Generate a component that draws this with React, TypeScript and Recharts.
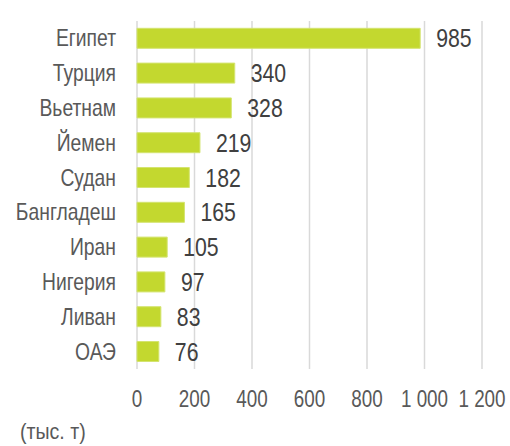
import { BarChart, Bar, XAxis, YAxis, CartesianGrid, LabelList } from "recharts";

const countries = ["Египет", "Турция", "Вьетнам", "Йемен", "Судан", "Бангладеш", "Иран", "Нигерия", "Ливан", "ОАЭ"];
const volumes = [985, 340, 328, 219, 182, 165, 105, 97, 83, 76];
const xTicks = [0, 200, 400, 600, 800, 1000, 1200];

const data = countries.map((name, i) => ({ name, value: volumes[i] }));

// no narrow font installed, so squeeze Liberation Sans horizontally
const FONT = "'Liberation Sans', Arial, sans-serif";
const TEXT = "#595959";

const fmt = (v: number) => String(v).replace(/\B(?=(\d{3})+(?!\d))/g, " ");

function NarrowText({ x, y, anchor, size, fill, sx, children }: any) {
  return (
    <g transform={`translate(${x},${y}) scale(${sx},1)`}>
      <text x={0} y={0} textAnchor={anchor} fontSize={size} fill={fill} fontFamily={FONT}>
        {children}
      </text>
    </g>
  );
}

function CountryTick({ x, y, payload }: any) {
  return (
    <NarrowText x={x} y={y + 8} anchor="end" size={23} fill={TEXT} sx={0.84}>
      {payload.value}
    </NarrowText>
  );
}

function ValueTick({ x, y, payload }: any) {
  return (
    <NarrowText x={x} y={y + 38} anchor="middle" size={23} fill={TEXT} sx={0.82}>
      {fmt(payload.value)}
    </NarrowText>
  );
}

function BarValue({ x, y, width, height, value }: any) {
  return (
    <NarrowText x={x + width + 16} y={y + height / 2 + 9} anchor="start" size={25} fill="#404040" sx={0.85}>
      {value}
    </NarrowText>
  );
}

export default function App() {
  return (
    <div style={{ position: "absolute", left: 0, top: 0, width: 510, height: 446, background: "#fff", fontFamily: FONT }}>
      <BarChart
        width={510}
        height={446}
        data={data}
        layout="vertical"
        margin={{ top: 21, right: 28, left: 0, bottom: 47 }}
        barCategoryGap="21%"
      >
        <CartesianGrid horizontal={false} stroke="#d9d9d9" strokeWidth={1.5} />
        <XAxis
          type="number"
          domain={[0, 1200]}
          ticks={xTicks}
          height={30}
          axisLine={false}
          tickLine={false}
          tickSize={0}
          tickMargin={0}
          interval={0}
          tick={<ValueTick />}
        />
        <YAxis
          type="category"
          dataKey="name"
          width={137}
          axisLine={false}
          tickLine={false}
          tickSize={0}
          tickMargin={21}
          interval={0}
          tick={<CountryTick />}
        />
        <Bar dataKey="value" fill="#c3d82f" stroke="#d4e470" strokeWidth={1} isAnimationActive={false}>
          <LabelList dataKey="value" content={<BarValue />} />
        </Bar>
      </BarChart>
      <div
        style={{
          position: "absolute",
          left: 20,
          top: 421,
          fontSize: 22,
          lineHeight: "22px",
          color: TEXT,
          fontFamily: FONT,
          transform: "scaleX(0.89)",
          transformOrigin: "left top",
          whiteSpace: "nowrap",
        }}
      >
        (тыс. т)
      </div>
    </div>
  );
}
